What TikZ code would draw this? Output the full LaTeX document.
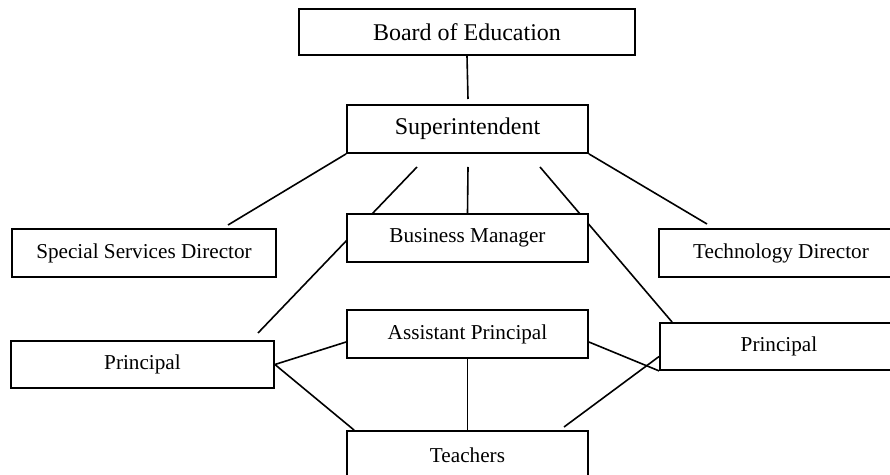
\documentclass[tikz,border=0pt]{standalone}
\usepackage{fontspec}
\setmainfont{Liberation Serif}
\usetikzlibrary{calc,backgrounds}

\tikzset{
  orgbox/.style={draw, fill=white, line width=0.9pt, minimum height=24pt,
    inner sep=0pt, font=\fontsize{12}{14}\selectfont},
  smallbox/.style={orgbox, font=\fontsize{10.6}{12}\selectfont},
  link/.style={line width=0.8pt}
}

\begin{document}
\begin{tikzpicture}[x=0.5pt, y=-0.5pt]
\useasboundingbox (0,0) rectangle (890,475);
\clip (0,0) rectangle (890,475);

% boxes
\node[orgbox, minimum width=168pt, minimum height=23pt] (board) at (467,32) {Board of Education};
\node[orgbox, minimum width=120.5pt] (sup) at (467.5,129) {Superintendent};
\node[smallbox, minimum width=132pt] (ssd) at (144,253) {Special Services Director};
\node[smallbox, minimum width=120.5pt] (bm) at (467.5,238) {Business Manager};
\node[smallbox, minimum width=122pt] (tech) at (781,253) {Technology Director};
\node[smallbox, minimum width=120.5pt] (ap) at (467.5,334) {Assistant Principal};
\node[smallbox, minimum width=131.5pt, minimum height=23.5pt] (pl) at (142.5,364.5) {Principal};
\node[smallbox, minimum width=119pt, minimum height=23.5pt] (pr) at (779,346.5) {Principal};
\node[smallbox, minimum width=120.5pt] (teach) at (467.5,455) {Teachers};

% loose ends of the lines
\coordinate (boardend) at (468,99);
\coordinate (ssdend) at (228,225);
\coordinate (techend) at (707,224);
\coordinate (supl) at (417,167);
\coordinate (supm) at (468,167);
\coordinate (supr) at (540,167);
\coordinate (plend) at (258,333);
\coordinate (teachend) at (564,427);

\begin{scope}[on background layer]
\draw[link] (board.south) -- (boardend);
\draw[link] (sup.south west) -- (ssdend);
\draw[link] (sup.south east) -- (techend);
\draw[link] (supl) -- (plend);
\draw[link] (supm) -- (bm.north);
\draw[link] (supr) -- ($(pr.north west)+(13,0)$);
\draw[link] (pl.east) -- ($(ap.west)+(0,8)$);
\draw[link] (pl.east) -- ($(teach.north west)+(8,0)$);
\draw[link] (ap.south) -- (teach.north);
\draw[link] ($(ap.east)+(0,8)$) -- (pr.south west);
\draw[link] (teachend) -- ($(pr.west)+(0,10)$);
\end{scope}

\end{tikzpicture}
\end{document}
